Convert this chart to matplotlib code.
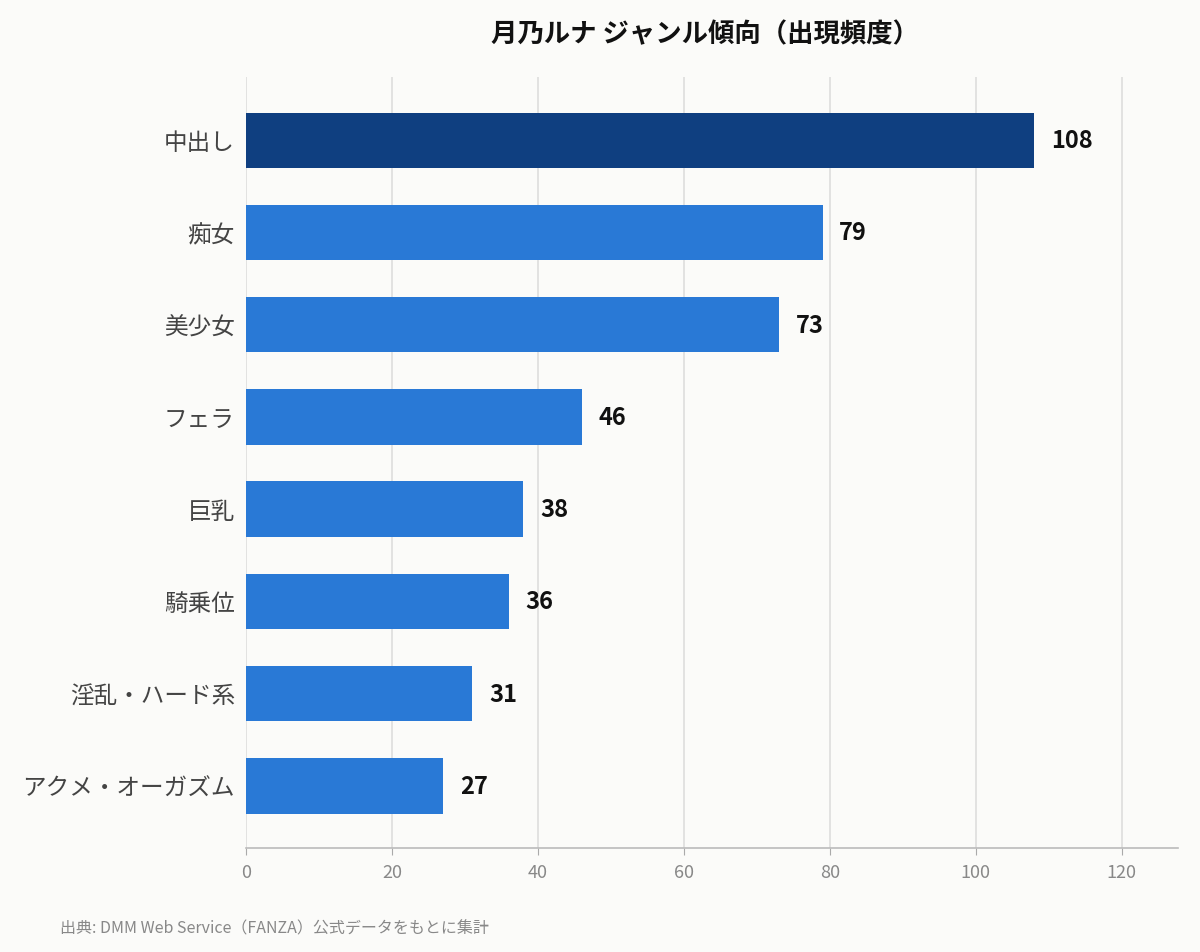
import matplotlib
matplotlib.use("Agg")
import matplotlib.pyplot as plt

plt.rcParams['font.family'] = ['Noto Sans CJK JP', 'DejaVu Sans']

categories = ["中出し", "痴女", "美少女", "フェラ", "巨乳", "騎乗位", "淫乱・ハード系", "アクメ・オーガズム"]
values = [108, 79, 73, 46, 38, 36, 31, 27]
ticks = [0, 20, 40, 60, 80, 100, 120]

bg = "#fbfbf9"
fig = plt.figure(figsize=(12, 9.53), dpi=100, facecolor=bg)
ax = fig.add_axes([246/1200, 1-849/953, (1178-246)/1200, (849-78)/953], facecolor=bg)

colors = ["#0f3f80"] + ["#2979d6"] * (len(values) - 1)
ypos = list(range(len(values)))
ax.barh(ypos, values, height=0.6, color=colors, zorder=3)
for y, v in zip(ypos, values):
    ax.text(v + 2.3, y, str(v), va="center", ha="left", fontsize=17, fontweight="bold", color="#111111")

ax.set_xlim(0, 127.7)
ax.set_ylim(7.674, -0.685)
ax.set_yticks(ypos)
ax.set_yticklabels(categories, fontsize=17, color="#444444")
ax.set_xticks(ticks)
ax.set_xticklabels([str(t) for t in ticks], fontsize=13, color="#888888")
ax.tick_params(axis="y", length=0, pad=8)
ax.tick_params(axis="x", length=5, color="#aaaaaa", pad=6)
ax.grid(axis="x", color="#dddddd", linewidth=1.2, zorder=0)
for s in ["top", "right", "left"]:
    ax.spines[s].set_visible(False)
ax.spines["bottom"].set_color("#bbbbbb")
ax.spines["bottom"].set_linewidth(1.2)

fig.text(705/1200, 1-35/953, "月乃ルナ ジャンル傾向（出現頻度）", ha="center", va="center",
         fontsize=19, fontweight="bold", color="#111111")
fig.text(60/1200, 1-929/953, "出典: DMM Web Service（FANZA）公式データをもとに集計", ha="left", va="center",
         fontsize=11.5, color="#888888")

fig.savefig("out.png", dpi=100, facecolor=bg)
